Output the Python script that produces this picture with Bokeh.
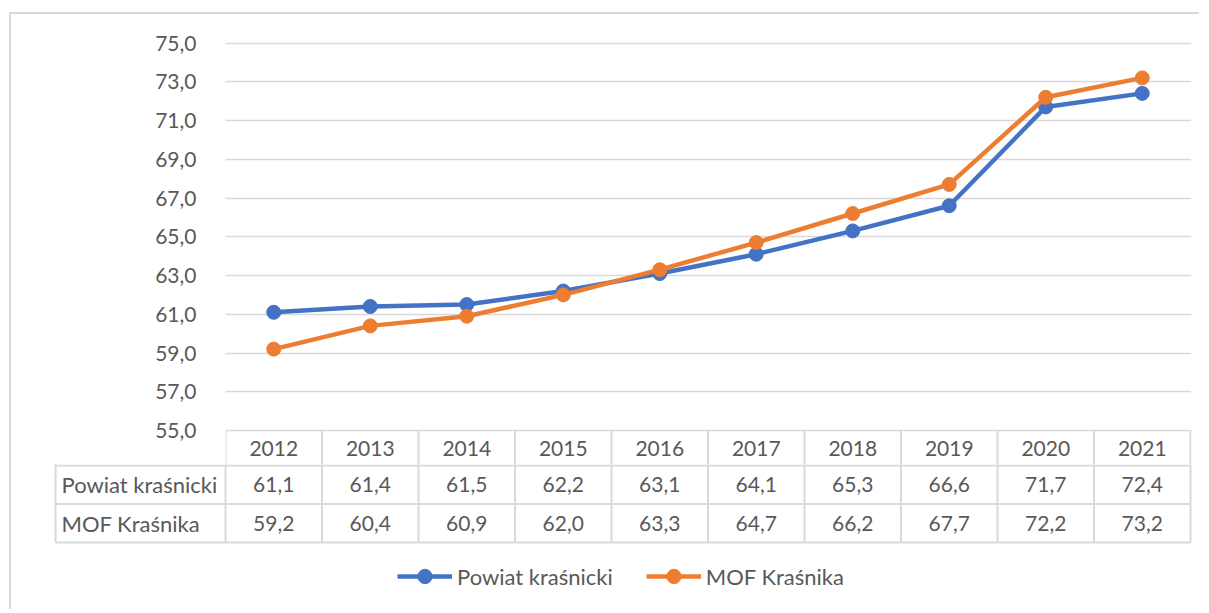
from bokeh.plotting import figure
from bokeh.models import (Range1d, FixedTicker, CustomJSTickFormatter, Legend,
                          LegendItem, ColumnDataSource)
from bokeh.core.properties import value
from bokeh.embed import file_html
from bokeh.resources import INLINE

# ---------------- data ----------------
years = ["2012", "2013", "2014", "2015", "2016", "2017", "2018", "2019", "2020", "2021"]
powiat = [61.1, 61.4, 61.5, 62.2, 63.1, 64.1, 65.3, 66.6, 71.7, 72.4]
mof = [59.2, 60.4, 60.9, 62.0, 63.3, 64.7, 66.2, 67.7, 72.2, 73.2]
series_names = ["Powiat kraśnicki", "MOF Kraśnika"]
y_ticks = [55, 57, 59, 61, 63, 65, 67, 69, 71, 73, 75]

# ---------------- style ----------------
BLUE = "#4472C4"
ORANGE = "#ED7D31"
GRID = "#D9D9D9"
TXT = "#595959"
FONT = "Lato"
FS = "21px"
FS_LBL = "22px"

# layout (pixels)
PX_X = 96.5          # width of one category / table column
PX_Y = 19.375        # pixels per value unit
ROW_H = 38.5         # table row height
ORIGIN_X = 11        # content left (page px)
ORIGIN_Y = 14
FRAME_L = 225
FRAME_R = 1191
TOP_FRAME_TOP = 33
Y75_PX = 42.5
Y55_PX = 430
TOP_FRAME_BOT = 466
BOT_H = 145
TABLE_LEFT_PX = 55
LABEL_LEFT_PX = 61
FIG_W = 1190

n = len(years)
xs = [i + 0.5 for i in range(n)]
fmt = lambda v: f"{v:.1f}".replace(".", ",")

src = ColumnDataSource(dict(x=xs, powiat=powiat, mof=mof, year=years,
                            powiat_lbl=[fmt(v) for v in powiat],
                            mof_lbl=[fmt(v) for v in mof]))

# ---------------- top figure: chart + header row ----------------
y_top = 75 + (Y75_PX - TOP_FRAME_TOP) / PX_Y
y_bot = 55 - (TOP_FRAME_BOT - Y55_PX) / PX_Y
top = figure(width=FIG_W, height=TOP_FRAME_BOT - ORIGIN_Y,
             x_range=Range1d(0, (FRAME_R - FRAME_L) / PX_X),
             y_range=Range1d(y_bot, y_top),
             x_axis_location=None, toolbar_location=None,
             output_backend="svg", min_border_left=FRAME_L - ORIGIN_X,
             min_border_right=ORIGIN_X + FIG_W - FRAME_R,
             min_border_top=TOP_FRAME_TOP - ORIGIN_Y, min_border_bottom=0,
             styles={"margin-left": "9px", "margin-top": "12px",
                     "border-left": "2px solid #D9D9D9",
                     "border-top": "2px solid #D9D9D9"})
top.outline_line_color = None
top.xgrid.visible = False
top.ygrid.ticker = FixedTicker(ticks=y_ticks)
top.ygrid.grid_line_color = GRID
top.ygrid.grid_line_width = 1.5
ax = top.yaxis[0]
ax.ticker = FixedTicker(ticks=y_ticks)
ax.formatter = CustomJSTickFormatter(code="return tick.toFixed(1).replace('.', ',');")
ax.axis_line_color = None
ax.major_tick_line_color = None
ax.minor_tick_line_color = None
ax.major_label_standoff = 23
ax.major_label_text_font = FONT
ax.major_label_text_font_size = FS
ax.major_label_text_color = TXT

# header row of the data table (years)
header_y = 55 - ((Y55_PX + TOP_FRAME_BOT) / 2 - Y55_PX) / PX_Y
top.segment(x0=list(range(n + 1)), y0=[55] * (n + 1), x1=list(range(n + 1)),
            y1=[y_bot - 1] * (n + 1), line_color=GRID, line_width=2)
top.text(x="x", y=header_y, text="year", source=src, text_align="center",
         text_baseline="middle", text_font=value(FONT), text_font_size=FS,
         text_color=TXT)

# series
for col, c in (("powiat", BLUE), ("mof", ORANGE)):
    top.line(x="x", y=col, source=src, line_color=c, line_width=4.5,
             line_join="round")
    top.scatter(x="x", y=col, source=src, size=14, fill_color=c, line_color=c)

# ---------------- bottom figure: table rows + legend ----------------
bx0 = (ORIGIN_X - FRAME_L) / PX_X
bx1 = (ORIGIN_X + FIG_W - FRAME_L) / PX_X
by1 = -0.5 + 1 / ROW_H
by0 = by1 - BOT_H / ROW_H
bot = figure(width=FIG_W, height=BOT_H, x_range=Range1d(bx0, bx1),
             y_range=Range1d(by0, by1), x_axis_location=None,
             y_axis_location=None, toolbar_location=None, output_backend="svg",
             min_border_left=0, min_border_right=0, min_border_top=0,
             min_border_bottom=0,
             styles={"margin-left": "9px", "border-left": "2px solid #D9D9D9"})
bot.outline_line_color = None
bot.grid.visible = False

tl = (TABLE_LEFT_PX - FRAME_L) / PX_X
row_lines = [-0.5, -1.5, -2.5]
bot.segment(x0=[tl] * 3, y0=row_lines, x1=[n] * 3, y1=row_lines,
            line_color=GRID, line_width=2)
vx = [tl] + list(range(n + 1))
bot.segment(x0=vx, y0=[by1 + 1] * len(vx), x1=vx, y1=[-2.5] * len(vx),
            line_color=GRID, line_width=2)

lab_x = (LABEL_LEFT_PX - FRAME_L) / PX_X
bot.text(x=[lab_x, lab_x], y=[-1, -2], text=series_names, text_align="left",
         text_baseline="middle", text_font=value(FONT), text_font_size=FS_LBL,
         text_color=TXT)
bot.text(x="x", y=-1, text="powiat_lbl", source=src, text_align="center",
         text_baseline="middle", text_font=value(FONT), text_font_size=FS,
         text_color=TXT)
bot.text(x="x", y=-2, text="mof_lbl", source=src, text_align="center",
         text_baseline="middle", text_font=value(FONT), text_font_size=FS,
         text_color=TXT)

# legend renderers (same data, lie outside this figure's visible range)
items = []
for name, col, c in zip(series_names, ("powiat", "mof"), (BLUE, ORANGE)):
    rl = bot.line(x="x", y=col, source=src, line_color=c, line_width=4.5)
    rs = bot.scatter(x="x", y=col, source=src, size=14, fill_color=c, line_color=c)
    items.append(LegendItem(label=name, renderers=[rl, rs]))

legend = Legend(items=items, orientation="horizontal",
                location=(397 - ORIGIN_X, 15),
                glyph_width=55, glyph_height=36, label_height=36,
                label_standoff=5, spacing=33, padding=0, margin=0,
                border_line_color=None, background_fill_alpha=0,
                label_text_font=FONT, label_text_font_size=FS_LBL,
                label_text_color=TXT, label_text_baseline="middle")
bot.add_layout(legend)

open("out.html", "w").write(file_html([top, bot], INLINE))
